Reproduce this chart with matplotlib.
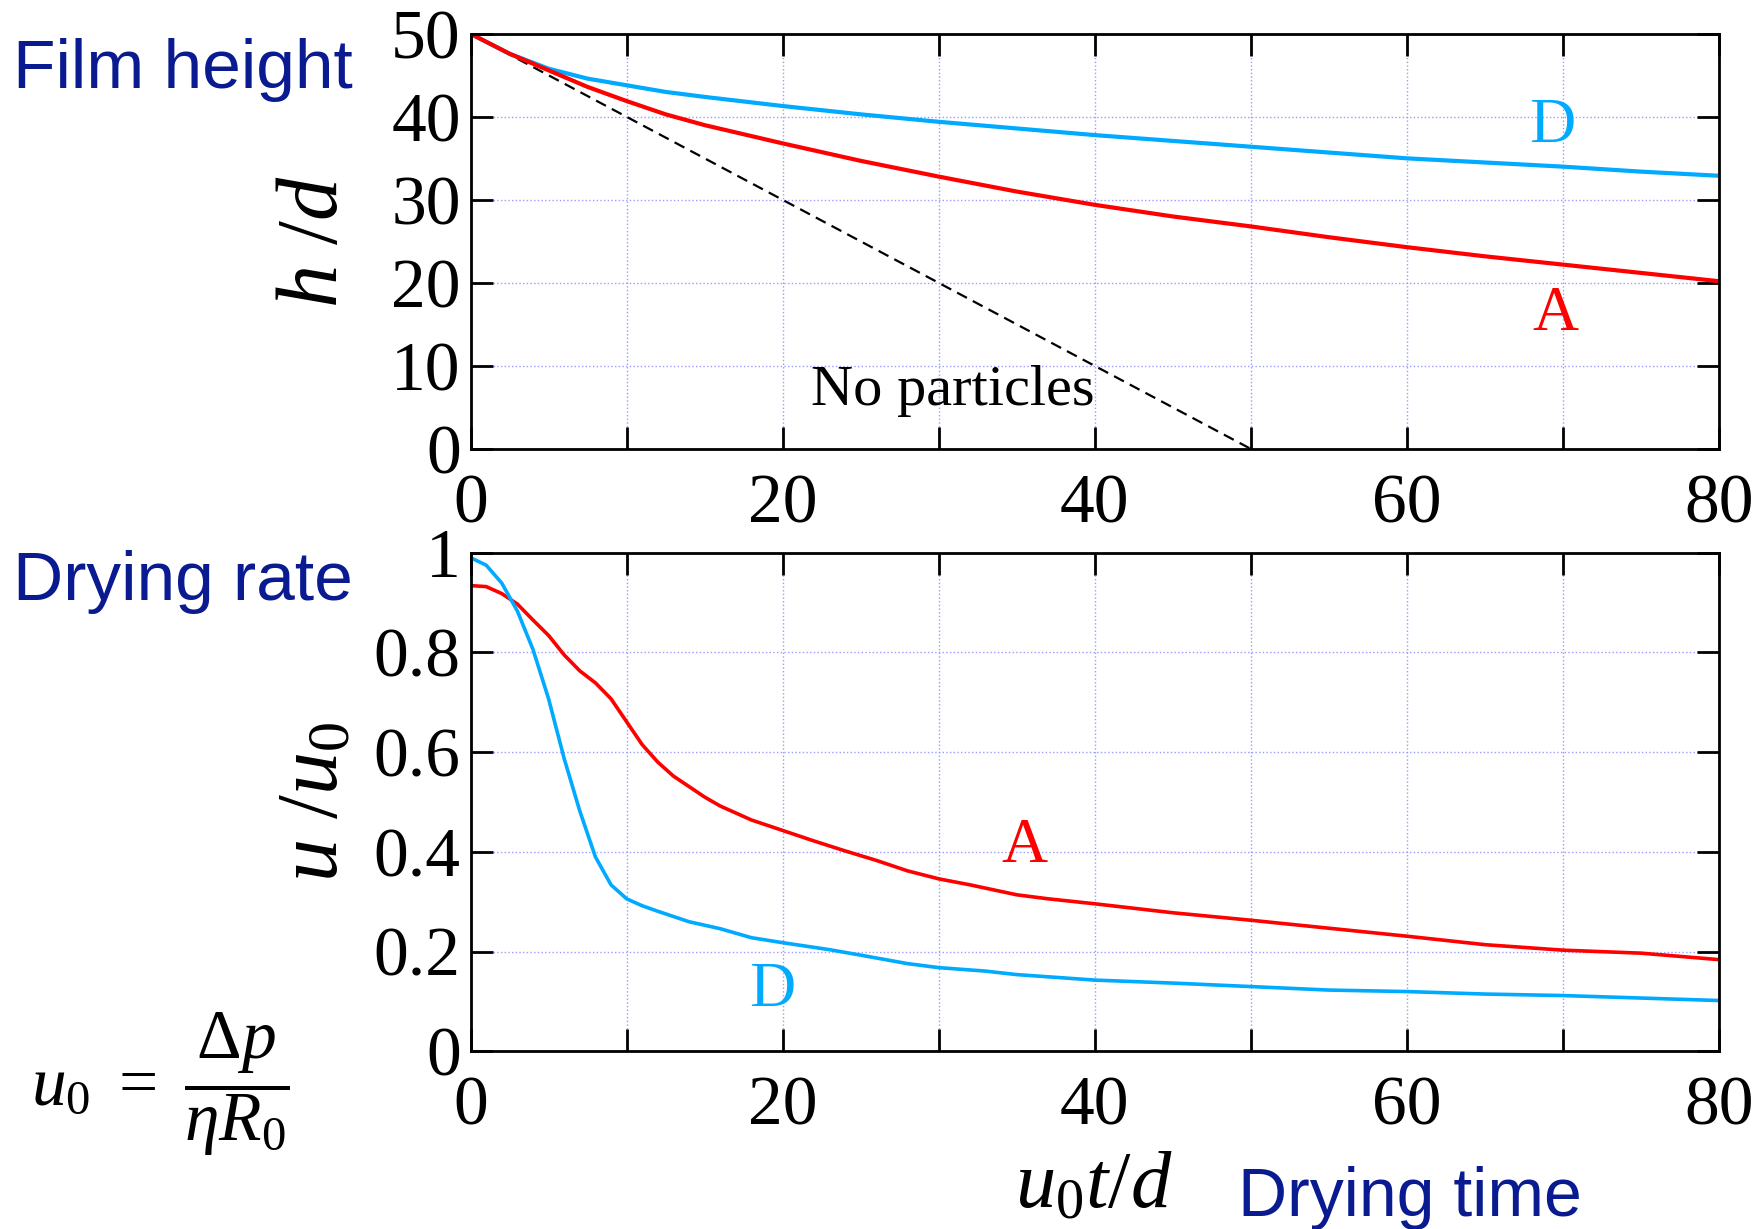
import matplotlib
matplotlib.use('Agg')
import matplotlib.pyplot as plt
from matplotlib.ticker import MultipleLocator, FuncFormatter

plt.rcParams['font.family'] = 'Liberation Serif'
plt.rcParams['mathtext.fontset'] = 'custom'
plt.rcParams['mathtext.rm'] = 'Liberation Serif'
plt.rcParams['mathtext.it'] = 'Liberation Serif:italic'

RED = '#ff0000'
BLUE = '#00aaff'
NAVY = '#0a1a90'
GRID = '#9a9aff'

# film height h/d vs drying time
t_h = [0, 2.5, 5, 7.5, 10, 12.5, 15, 20, 25, 30, 35, 40, 45, 50, 55, 60, 65, 70, 75, 80]
h_A = [50, 47.6, 45.6, 43.6, 41.9, 40.3, 39.0, 36.8, 34.7, 32.8, 31.0, 29.4, 28.0, 26.8, 25.5,
       24.3, 23.2, 22.2, 21.2, 20.2]
h_D = [50, 47.6, 45.8, 44.6, 43.8, 43.0, 42.4, 41.3, 40.3, 39.4, 38.6, 37.8, 37.1, 36.4, 35.7,
       35.0, 34.5, 34.0, 33.4, 32.9]
t_nop = [0, 50]
h_nop = [50, 0]

# drying rate u/u0 vs drying time
t_uA = [0, 1, 2, 3, 4, 5, 6, 7, 8, 9, 10, 11, 12, 13, 14, 15, 16, 18, 20, 22, 24, 26, 28, 30,
        32, 35, 37, 40, 45, 50, 55, 60, 65, 70, 75, 80]
u_A = [0.934, 0.932, 0.918, 0.897, 0.865, 0.834, 0.795, 0.763, 0.739, 0.707, 0.661, 0.615, 0.580,
       0.552, 0.531, 0.510, 0.492, 0.464, 0.443, 0.422, 0.402, 0.383, 0.362, 0.346,
       0.334, 0.314, 0.306, 0.296, 0.278, 0.263, 0.247, 0.231, 0.214, 0.203, 0.197, 0.184]
t_uD = [0, 1, 2, 3, 4, 5, 6, 7, 8, 9, 10, 11, 12, 14, 16, 18, 20, 23, 25, 28, 30, 33, 35,
        40, 45, 50, 55, 60, 65, 70, 75, 80]
u_D = [0.990, 0.975, 0.939, 0.883, 0.806, 0.707, 0.587, 0.482, 0.390, 0.334, 0.306, 0.292, 0.281,
       0.260, 0.246, 0.228, 0.218, 0.204, 0.193, 0.176, 0.168, 0.161, 0.154,
       0.143, 0.137, 0.130, 0.123, 0.120, 0.115, 0.112, 0.107, 0.102]

TICK_FS = 50


def style_axes(ax, ystep, ylabels):
    ax.set_xlim(0, 80)
    ax.xaxis.set_major_locator(MultipleLocator(10))
    ax.xaxis.set_major_formatter(FuncFormatter(lambda v, p: '%d' % v if round(v) % 20 == 0 else ''))
    ax.yaxis.set_major_locator(MultipleLocator(ystep))
    ax.yaxis.set_major_formatter(FuncFormatter(ylabels))
    ax.tick_params(direction='in', length=16, width=2, top=True, right=True,
                   labelsize=TICK_FS)
    ax.tick_params(axis='x', pad=18)
    ax.tick_params(axis='y', pad=7)
    for s in ax.spines.values():
        s.set_linewidth(2)
    ax.grid(True, linestyle=':', color=GRID, linewidth=1.0)
    ax.set_axisbelow(True)


fig = plt.figure(figsize=(17.65, 12.29), dpi=100)
ax1 = fig.add_axes([0.2666, 0.6347, 0.7074, 0.3378])
ax2 = fig.add_axes([0.2666, 0.1445, 0.7074, 0.4058])

# top: film height
ax1.plot(t_nop, h_nop, color='black', linestyle=(0, (5, 3)), linewidth=1.6)
ax1.plot(t_h, h_D, color=BLUE, linewidth=3)
ax1.plot(t_h, h_A, color=RED, linewidth=3)
ax1.set_ylim(0, 50)
style_axes(ax1, 10, lambda v, p: '%d' % v)
ax1.text(21.8, 7.0, 'No particles', fontsize=42, va='center', ha='left')
ax1.text(69.3, 38.8, 'D', color=BLUE, fontsize=46, ha='center', va='center')
ax1.text(69.5, 16.1, 'A', color=RED, fontsize=46, ha='center', va='center')
ax1.set_ylabel(r'$h\ /d$', fontsize=62)
ax1.yaxis.set_label_coords(-0.092, 0.5)

# bottom: drying rate
ax2.plot(t_uA, u_A, color=RED, linewidth=2.6)
ax2.plot(t_uD, u_D, color=BLUE, linewidth=2.6)
ax2.set_ylim(0, 1)
style_axes(ax2, 0.2, lambda v, p: '%g' % round(v, 1))
ax2.text(35.5, 0.41, 'A', color=RED, fontsize=46, ha='center', va='center')
ax2.text(19.3, 0.122, 'D', color=BLUE, fontsize=46, ha='center', va='center')
ax2.set_ylabel(r'$u\ /u_\mathrm{0}$', fontsize=62)
ax2.yaxis.set_label_coords(-0.092, 0.5)

# annotations around the axes
fig.text(13.5 / 1765, 1 - 88 / 1229, 'Film height', family='Liberation Sans',
         color=NAVY, fontsize=50, va='baseline')
fig.text(13.5 / 1765, 1 - 600 / 1229, 'Drying rate', family='Liberation Sans',
         color=NAVY, fontsize=50, va='baseline')
fig.text(1094 / 1765, 1 - 1207 / 1229, r'$u_\mathrm{0}t/d$', fontsize=58,
         ha='center', va='baseline')
fig.text(1238 / 1765, 1 - 1216 / 1229, 'Drying time', family='Liberation Sans',
         color=NAVY, fontsize=49, va='baseline')
fig.text(160 / 1765, 1 - 1084 / 1229,
         r'$u_\mathrm{0}\ =\ \dfrac{\Delta p}{\eta R_\mathrm{0}}$',
         fontsize=50, ha='center', va='center')

fig.savefig('out.png', dpi=100)
